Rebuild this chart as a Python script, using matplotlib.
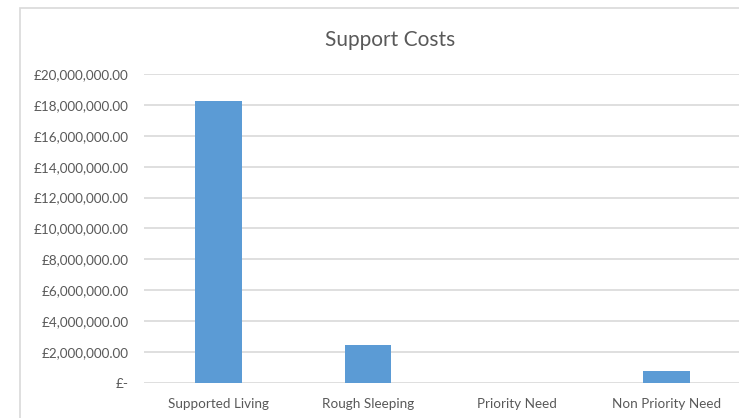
import matplotlib.pyplot as plt
from matplotlib.patches import Rectangle
from matplotlib.ticker import FuncFormatter, MultipleLocator

categories = ["Supported Living", "Rough Sleeping", "Priority Need", "Non Priority Need"]
costs = [18250000, 2480000, 0, 760000]

BAR_COLOR = "#5b9bd5"
TEXT_COLOR = "#595959"
GRID_COLOR = "#d9d9d9"

plt.rcParams["font.family"] = ["Lato", "DejaVu Sans"]


def gbp(v, pos):
    if v == 0:
        return "£-"
    return f"£{v:,.2f}"


fig = plt.figure(figsize=(7.39, 4.18), dpi=100)

# chart area border (cut off on the right and bottom like the screenshot)
fig.patches.append(Rectangle((20 / 739, -0.05), 1.1, 1.05 - 8 / 418,
                             transform=fig.transFigure, fill=False,
                             edgecolor=GRID_COLOR, linewidth=1.2))

ax = fig.add_axes([144 / 739, 35 / 418, 597 / 739, 309 / 418])
x = range(len(categories))
ax.bar(x, costs, width=0.31, color=BAR_COLOR, zorder=3)

ax.set_xlim(-0.5, len(categories) - 0.5)
ax.set_ylim(0, 20000000)
ax.yaxis.set_major_locator(MultipleLocator(2000000))
ax.yaxis.set_major_formatter(FuncFormatter(gbp))
ax.set_xticks(list(x))
ax.set_xticklabels(categories)

ax.grid(axis="y", color=GRID_COLOR, linewidth=1.2, zorder=0)
for s in ax.spines.values():
    s.set_visible(False)
ax.tick_params(axis="both", length=0, colors=TEXT_COLOR, labelsize=9.7)
ax.tick_params(axis="y", pad=11)
ax.tick_params(axis="x", pad=11)

fig.text(390 / 739, 1 - 40 / 418, "Support Costs", ha="center", va="center",
         fontsize=15, color=TEXT_COLOR)

fig.savefig("out.png", dpi=100)
